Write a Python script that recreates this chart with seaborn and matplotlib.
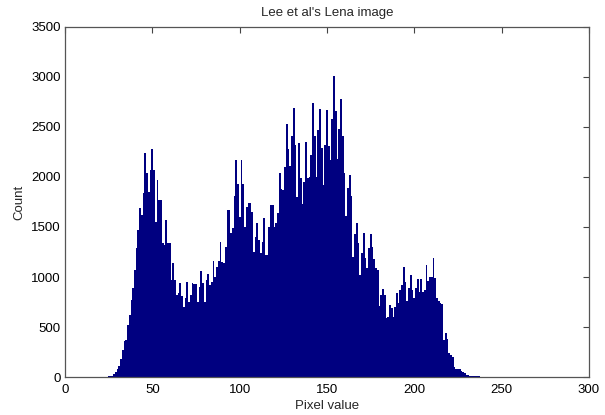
import numpy as np
import pandas as pd
import matplotlib
matplotlib.use("Agg")
import matplotlib.pyplot as plt
import seaborn as sns

# ---- data ----
pixel_values = list(range(256))
counts = (
    [0] * 24
    + [4, 7, 10, 15, 27, 55, 77, 110, 177, 270,
       363, 370, 520, 620, 770, 887, 1070, 1287, 1470, 1687,
       1620, 1837, 2243, 2037, 1853, 2070, 2277, 2070, 1553, 1970,
       1770, 1770, 1337]
    + [1320, 1570, 1343, 1343, 970, 1137, 970, 820, 837, 937,
       810, 703, 787, 953, 753, 820, 943, 930, 930, 753,
       903, 1063, 937, 753, 970, 1030, 920, 953, 1163, 1003,
       1103, 1163, 1353, 1153, 1137, 1303]
    + [1670, 1670, 1443, 1487, 1810, 2170, 1930, 1603, 2170, 1930,
       1503, 1703, 1737, 1737, 1653, 1253, 1403, 1543, 1370, 1243,
       1353, 1593, 1220, 1220, 1503, 1720, 1720, 1503, 1543, 1637,
       2037, 1877, 1870, 2103, 2530, 2277, 2110, 2410, 2687, 2320]
    + [1803, 2337, 1987, 1730, 1953, 2353, 1987, 2003, 2220, 2737,
       2410, 2003, 2470, 2677, 2287, 1920, 2320, 2670, 2310, 2170,
       2577, 3010, 2663, 2177, 2477, 2777, 2410, 2037, 1610, 1887,
       2020, 1810, 1203, 1430, 1537, 1343, 1020]
    + [1237, 1443, 1187, 1087, 1287, 1430, 1303, 1177, 1087, 1070,
       710, 820, 877, 820, 587, 603, 720, 687, 597, 703,
       837, 737, 870, 920, 1097, 953, 763, 887, 1020, 870,
       787, 887, 977, 853]
    + [977, 853, 870, 1120, 964, 1003, 1003, 1193, 987, 787,
       763, 745, 730, 370, 445, 380, 237, 220, 205, 100,
       85, 80, 78, 60, 50, 37, 25, 20, 14, 12,
       10, 8, 7, 6, 5, 4, 3, 4, 2, 3,
       2, 3, 1, 2]
    + [0] * 8
)
assert len(counts) == 256

x_ticks = [0, 50, 100, 150, 200, 250, 300]
y_ticks = [0, 500, 1000, 1500, 2000, 2500, 3000, 3500]
title = "Lee et al's Lena image"
x_label = "Pixel value"
y_label = "Count"

df = pd.DataFrame({"pixel": pixel_values, "count": counts})

sns.set_style("white")
plt.rcParams["font.family"] = ["Liberation Sans", "DejaVu Sans"]

fig = plt.figure(figsize=(6.05, 4.15), dpi=100)
ax = fig.add_axes([65 / 605, 1 - 377 / 415, (589 - 65) / 605, (377 - 27) / 415])

sns.histplot(data=df, x="pixel", weights="count", discrete=True, shrink=1,
             color="#000080", alpha=1, linewidth=0, element="bars", ax=ax)

ax.set_xlim(0, 300)
ax.set_ylim(0, 3500)
ax.set_xticks(x_ticks)
ax.set_yticks(y_ticks)
ax.tick_params(direction="in", top=True, right=True, length=4, width=0.8,
               color="#444444", labelsize=9.5, labelcolor="black")
ax.tick_params(axis="x", pad=5)
ax.tick_params(axis="y", pad=3)
for s in ax.spines.values():
    s.set_color("#555555")
    s.set_linewidth(0.9)
    s.set_visible(True)

ax.set_title(title, fontsize=9.5, pad=8)
ax.set_xlabel(x_label, fontsize=9.5, labelpad=3)
ax.set_ylabel(y_label, fontsize=9.5, labelpad=4)

fig.savefig("out.png", dpi=100)
